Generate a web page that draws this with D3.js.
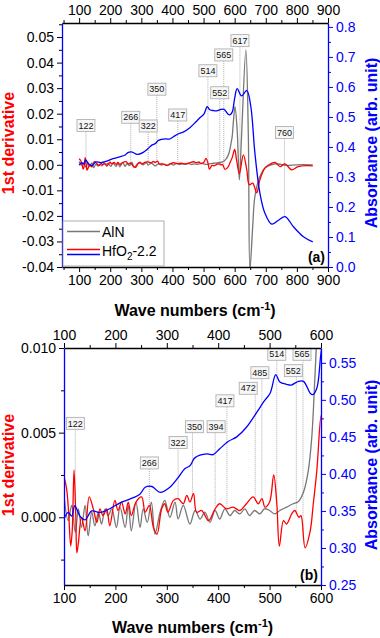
<!DOCTYPE html>
<html>
<head>
<meta charset="utf-8">
<script src="https://cdn.jsdelivr.net/npm/d3@7"></script>
<style>
body { margin: 0; background: #fff; }
svg { display: block; font-family: "Liberation Sans", Arial, sans-serif; }
</style>
</head>
<body>
<svg width="380" height="638"></svg>
<script>
// ---- data ----
// HfO2-2.2 absorbance (right axis)
var waveAbs = [100,108,115,121,131,141,154,170,189,209,228,248,258,271,287,306,322,335,345,355,378,390,403,420,436,455,475,488,501,512,520,533,542,556,566,579,584,592,600,608,622,639,652,665,681,697,719,740,762,789,821,851];
var absHfO2 = [0.339,0.348,0.343,0.357,0.343,0.338,0.350,0.348,0.353,0.361,0.366,0.373,0.382,0.383,0.375,0.382,0.395,0.407,0.411,0.422,0.427,0.426,0.434,0.444,0.450,0.463,0.483,0.497,0.509,0.534,0.524,0.521,0.520,0.525,0.525,0.509,0.507,0.516,0.563,0.594,0.570,0.588,0.534,0.380,0.247,0.180,0.143,0.155,0.168,0.134,0.101,0.084];

// HfO2-2.2 1st derivative (left axis)
var waveDerHf = [100,105,109,113,116,119.5,123,125,128,134,141,149,157,164,170,176,183,189,199,205,212,219,225,231,240,251,258,266,274,281,290,296,302,313,322,332,339,345,352,358,368,381,394,403,416,429,442,455,468,478,485,491,500,508,514,519,527,533,543,549,557,561,569,579,585,592,600,606,615,628,639,647,658,671,681,697,710,730,746,762,783,804,830,851];
var derHfO2 = [0.0024,0.0017,0.0003,-0.0017,-0.0008,0.0028,0.0000,-0.0021,-0.0015,0.0000,-0.0008,0.0012,0.0005,-0.0003,0.0005,0.0001,0.0005,-0.0005,0.0010,0.0004,0.0009,0.0002,0.0009,0.0001,0.0009,0.0012,0.0003,0.0007,-0.0006,-0.0010,0.0005,0.0008,0.0003,0.0010,0.0011,0.0008,0.0013,0.0009,0.0014,0.0003,0.0004,-0.0002,0.0005,0.0008,0.0005,0.0006,0.0004,0.0008,0.0012,0.0008,0.0011,0.0006,0.0009,0.0025,0.0008,-0.0017,-0.0002,-0.0004,0.0002,0.0004,0.0000,0.0001,-0.0018,-0.0008,0.0008,0.0028,0.0060,0.0020,-0.0035,0.0039,-0.0020,-0.0078,-0.0072,-0.0110,-0.0059,-0.0013,0.0000,0.0009,-0.0007,0.0004,-0.0020,-0.0007,-0.0003,-0.0004];

// AlN 1st derivative (left axis)
var waveDerAlN = [100,108,115,122,128,134,141,147,154,160,167,173,180,186,193,202,209,219,225,231,240,248,254,262,270,277,287,296,306,316,322,332,345,355,365,374,384,394,403,413,423,432,442,452,461,471,481,490,500,510,520,533,546,555,566,575,582,588,592,596,601,608,615,622,636,644,649,658,665,681,697,730,764,800,851];
var derAlN = [0.0013,-0.0002,0.0007,-0.0009,0.0005,-0.0006,0.0007,-0.0011,0.0003,-0.0005,0.0003,-0.0004,0.0005,0.0001,0.0005,-0.0006,0.0006,-0.0006,0.0007,-0.0008,0.0009,-0.0006,0.0005,-0.0003,0.0009,-0.0010,0.0003,0.0010,0.0000,0.0009,-0.0001,0.0007,-0.0004,0.0004,-0.0001,0.0003,-0.0003,0.0004,-0.0001,0.0005,0.0001,0.0004,0.0002,0.0005,0.0001,0.0004,0.0002,0.0005,0.0004,0.0002,0.0004,0.0006,0.0008,0.0009,0.0015,0.0027,0.0047,0.0082,0.0110,0.0170,0.0228,0.0137,-0.0059,0.0110,0.0450,0.0110,-0.0410,-0.0241,-0.0124,-0.0046,-0.0013,0.0004,-0.0002,0.0000,0.0000];

// peak labels
var peaksA = [122,266,322,350,417,514,552,565,617,760];
var tagLevelA = [0.0154,0.0186,0.0152,0.0296,0.0195,0.0368,0.0282,0.0430,0.0486,0.0126]; // derivative units
var tagTargetA = ["der","der","der","der","der","der","der","der","der","abs"];
var peaksB = [122,266,322,350,394,417,472,485,514,552,565];
var tagLevelB = [0.00555,0.00321,0.00442,0.00535,0.00535,0.00688,0.00762,0.00854,0.00963,0.00866,0.00963];
var tagNudgeB = [0,0,0,2,1,-2,-7,-2,0,-3,-1];

var svg = d3.select("svg");
var GRAY = "#777777", RED = "#ff0000", BLUE = "#0000ff";

// linear lookup in a series
function lookup(xs, ys, v) {
  var i = d3.bisectLeft(xs, v);
  if (i <= 0) return ys[0];
  if (i >= xs.length) return ys[ys.length - 1];
  var t = (v - xs[i - 1]) / (xs[i] - xs[i - 1]);
  return ys[i - 1] + t * (ys[i] - ys[i - 1]);
}

function steps(a, b, s) {
  return d3.range(Math.round((b - a) / s) + 1).map(function(i) { return +(a + i * s).toFixed(5); });
}

function axis(g, kind, scale, pos, majors, minors, fmt, lineColor, tickColor, labelColor) {
  var mk = {top: d3.axisTop, bottom: d3.axisBottom, left: d3.axisLeft, right: d3.axisRight}[kind];
  var horiz = (kind == "top" || kind == "bottom");
  var tr = horiz ? "translate(0," + pos + ")" : "translate(" + pos + ",0)";
  var minor = g.append("g").attr("transform", tr)
      .call(mk(scale).tickValues(minors).tickSize(3).tickSizeOuter(0).tickFormat(""));
  minor.select(".domain").remove();
  minor.selectAll("line").attr("stroke", tickColor).attr("stroke-width", 1);
  var major = g.append("g").attr("transform", tr)
      .call(mk(scale).tickValues(majors).tickSize(5).tickSizeOuter(0).tickPadding(3).tickFormat(fmt));
  major.select(".domain").attr("stroke", lineColor).attr("stroke-width", 1.3);
  major.selectAll("line").attr("stroke", tickColor).attr("stroke-width", 1);
  major.selectAll("text").attr("fill", labelColor).attr("font-size", 14)
      .attr("font-family", "'Liberation Sans', Arial, sans-serif");
  return major;
}

function panel(cfg) {
  var g = svg.append("g");
  var x = d3.scaleLinear().domain(cfg.xDom).range([cfg.left, cfg.right]);
  var yL = d3.scaleLinear().domain(cfg.yLDom).range([cfg.bottom, cfg.top]);
  var yR = d3.scaleLinear().domain(cfg.yRDom).range([cfg.bottom, cfg.top]);

  var clipId = "clip" + cfg.name;
  g.append("clipPath").attr("id", clipId).append("rect")
      .attr("x", cfg.left).attr("y", cfg.top)
      .attr("width", cfg.right - cfg.left).attr("height", cfg.bottom - cfg.top);
  var plot = g.append("g").attr("clip-path", "url(#" + clipId + ")");

  // peak markers
  cfg.peaks.forEach(function(p, i) {
    var cx = x(p) + (cfg.nudge ? cfg.nudge[i] : 0);
    var cy = yL(cfg.levels[i]);
    var endY = cfg.targets && cfg.targets[i] == "abs" ? yR(lookup(waveAbs, absHfO2, p)) : yL(lookup(waveDerHf, derHfO2, p));
    plot.append("line").attr("x1", x(p)).attr("x2", x(p))
        .attr("y1", cy + 6).attr("y2", endY)
        .attr("stroke", "#9a9a9a").attr("stroke-width", 0.8).attr("stroke-dasharray", "1,1");
  });

  var lineL = d3.line().curve(d3.curveCatmullRom.alpha(0.5));
  function drawSeries(xs, ys, ys2, color) {
    var pts = xs.map(function(v, i) { return [x(v), ys2(ys[i])]; });
    plot.append("path").attr("d", lineL(pts)).attr("fill", "none")
        .attr("stroke", color).attr("stroke-width", 1.3).attr("stroke-linejoin", "round");
  }
  drawSeries(waveDerAlN, derAlN, yL, GRAY);
  drawSeries(waveDerHf, derHfO2, yL, RED);
  drawSeries(waveAbs, absHfO2, yR, BLUE);

  // boxes on top
  cfg.peaks.forEach(function(p, i) {
    var cx = x(p) + (cfg.nudge ? cfg.nudge[i] : 0);
    var cy = yL(cfg.levels[i]);
    g.append("rect").attr("x", cx - 9).attr("y", cy - 6).attr("width", 18).attr("height", 12)
        .attr("fill", "#f6f6f6").attr("stroke", "#a8a8a8").attr("stroke-width", 0.8);
    g.append("text").attr("x", cx).attr("y", cy + 3.2).attr("text-anchor", "middle")
        .attr("font-size", 9).attr("fill", "#111").text(p);
  });

  // axes
  axis(g, "bottom", x, cfg.bottom, cfg.xMaj, cfg.xMin, d3.format("d"), "#000", "#000", "#000");
  axis(g, "top", x, cfg.top, cfg.xMaj, cfg.xMin, d3.format("d"), "#000", "#000", "#000");
  axis(g, "left", yL, cfg.left, cfg.yLMaj, cfg.yLMin, function(d) { return d.toFixed(cfg.yLDec); }, BLUE, "#000", "#000");
  axis(g, "right", yR, cfg.right, cfg.yRMaj, cfg.yRMin, function(d) { return d.toFixed(cfg.yRDec); }, BLUE, BLUE, BLUE);

  // titles
  var t = g.append("text").attr("x", (cfg.left + cfg.right) / 2).attr("y", cfg.titleY)
      .attr("text-anchor", "middle").attr("font-size", 16).attr("font-weight", "bold").attr("fill", "#000");
  t.append("tspan").text("Wave numbers (cm");
  t.append("tspan").attr("font-size", 11).attr("dy", -6).text("-1");
  t.append("tspan").attr("dy", 6).text(")");

  g.append("text").attr("transform", "translate(14," + cfg.yTitleC + ") rotate(-90)")
      .attr("text-anchor", "middle").attr("font-size", 16).attr("font-weight", "bold")
      .attr("fill", RED).text("1st derivative");
  g.append("text").attr("transform", "translate(377," + cfg.yTitleC + ") rotate(-90)")
      .attr("text-anchor", "middle").attr("font-size", 16).attr("font-weight", "bold")
      .attr("fill", BLUE).text("Absorbance (arb. unit)");

  g.append("text").attr("x", cfg.right - 3).attr("y", cfg.bottom - 5).attr("text-anchor", "end")
      .attr("font-size", 14).attr("font-weight", "bold").text(cfg.tag);

  return g;
}

var ga = panel({
  name: "a", left: 62, right: 328, top: 23, bottom: 267,
  xDom: [45, 900], yLDom: [-0.04, 0.0555], yRDom: [0, 0.813],
  xMaj: steps(100, 900, 100), xMin: steps(50, 850, 100),
  yLMaj: steps(-0.04, 0.05, 0.01), yLMin: steps(-0.035, 0.055, 0.01), yLDec: 2,
  yRMaj: steps(0, 0.8, 0.1), yRMin: steps(0.05, 0.75, 0.1), yRDec: 1,
  peaks: peaksA, levels: tagLevelA, targets: tagTargetA,
  titleY: 316, yTitleC: 143, tag: "(a)"
});

panel({
  name: "b", left: 64, right: 321, top: 348, bottom: 585,
  xDom: [100, 600], yLDom: [-0.004, 0.010], yRDom: [0.25, 0.57],
  xMaj: steps(100, 600, 100), xMin: steps(150, 550, 100),
  yLMaj: [0, 0.005, 0.010], yLMin: [-0.0025, 0.0025, 0.0075], yLDec: 3,
  yRMaj: steps(0.25, 0.55, 0.05), yRMin: steps(0.275, 0.525, 0.05), yRDec: 2,
  peaks: peaksB, levels: tagLevelB, nudge: tagNudgeB,
  titleY: 633, yTitleC: 465, tag: "(b)"
});

// legend (panel a)
var lg = ga.append("g");
lg.append("rect").attr("x", 63).attr("y", 221).attr("width", 101).attr("height", 45)
    .attr("fill", "#fff").attr("stroke", "#999").attr("stroke-width", 0.8);
lg.append("line").attr("x1", 67).attr("x2", 100).attr("y1", 231.5).attr("y2", 231.5)
    .attr("stroke", GRAY).attr("stroke-width", 1.3);
lg.append("text").attr("x", 102).attr("y", 236.5).attr("font-size", 14).text("AlN");
lg.append("line").attr("x1", 67).attr("x2", 100).attr("y1", 249.5).attr("y2", 249.5)
    .attr("stroke", RED).attr("stroke-width", 1.3);
lg.append("line").attr("x1", 67).attr("x2", 100).attr("y1", 254.5).attr("y2", 254.5)
    .attr("stroke", BLUE).attr("stroke-width", 1.3);
var lt = lg.append("text").attr("x", 102).attr("y", 256).attr("font-size", 14);
lt.append("tspan").text("HfO");
lt.append("tspan").attr("font-size", 10).attr("dy", 4).text("2");
lt.append("tspan").attr("dy", -4).text("-2.2");
</script>
</body>
</html>
